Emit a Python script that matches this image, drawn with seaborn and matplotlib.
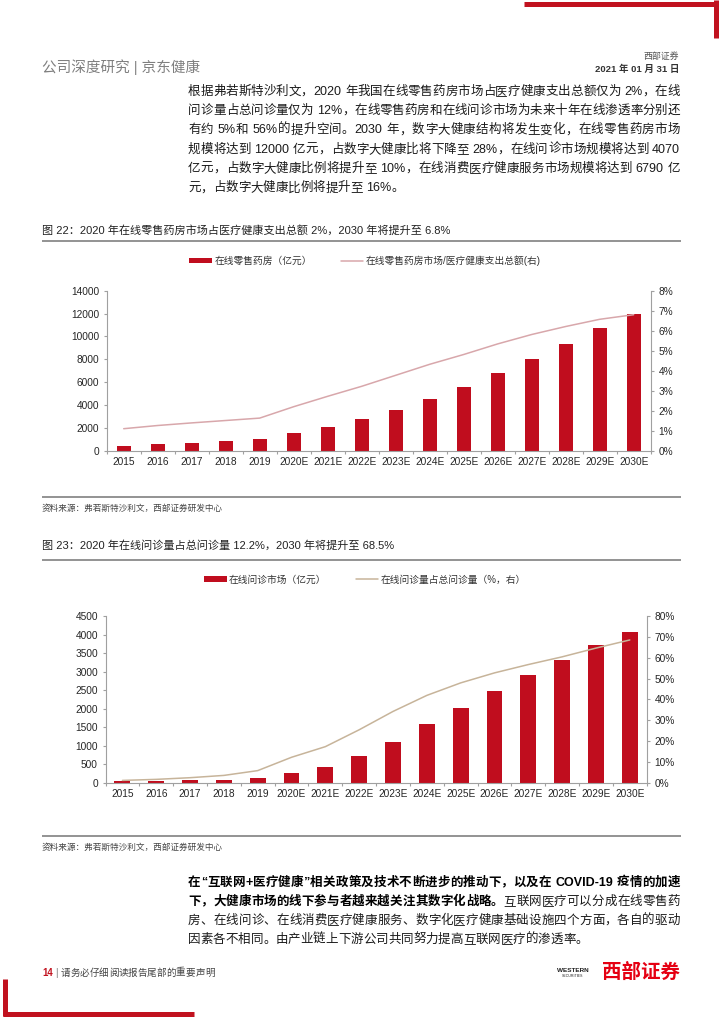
import numpy as np
import pandas as pd
import matplotlib
matplotlib.use("Agg")
import matplotlib.pyplot as plt
import seaborn as sns
from matplotlib.patches import Patch
from matplotlib.lines import Line2D
from matplotlib.ticker import PercentFormatter, MultipleLocator

# ---------------- data ----------------
years = ["2015", "2016", "2017", "2018", "2019", "2020E", "2021E", "2022E",
         "2023E", "2024E", "2025E", "2026E", "2027E", "2028E", "2029E", "2030E"]
pharmacy_sales = [450, 550, 700, 870, 1030, 1560, 2100, 2750,
                  3600, 4550, 5600, 6800, 8000, 9350, 10700, 12000]
pharmacy_share = [1.1, 1.26, 1.39, 1.51, 1.63, 2.2, 2.72, 3.22,
                  3.77, 4.32, 4.81, 5.34, 5.81, 6.21, 6.57, 6.8]
consult_market = [45, 55, 63, 81, 120, 255, 425, 710,
                  1090, 1580, 2010, 2465, 2920, 3320, 3720, 4070]
consult_share = [1.1, 1.6, 2.4, 3.5, 5.8, 12.2, 17.3, 25.4,
                 34.2, 41.9, 47.9, 52.7, 56.7, 60.4, 64.6, 68.5]

legend1 = ["在线零售药房（亿元）", "在线零售药房市场/医疗健康支出总额(右)"]
legend2 = ["在线问诊市场（亿元）", "在线问诊量占总问诊量（%，右）"]
title1 = "图 22：2020 年在线零售药房市场占医疗健康支出总额 2%，2030 年将提升至 6.8%"
title2 = "图 23：2020 年在线问诊量占总问诊量 12.2%，2030 年将提升至 68.5%"
source = "资料来源：弗若斯特沙利文，西部证券研发中心"

para1 = [
    "根据弗若斯特沙利文，2020 年我国在线零售药房市场占医疗健康支出总额仅为 2%，在线",
    "问诊量占总问诊量仅为 12%，在线零售药房和在线问诊市场为未来十年在线渗透率分别还",
    "有约 5%和 56%的提升空间。2030 年，数字大健康结构将发生变化，在线零售药房市场",
    "规模将达到 12000 亿元，占数字大健康比将下降至 28%，在线问诊市场规模将达到 4070",
    "亿元，占数字大健康比例将提升至 10%，在线消费医疗健康服务市场规模将达到 6790 亿",
    "元，占数字大健康比例将提升至 16%。",
]
para2 = [
    [("在“互联网+医疗健康”相关政策及技术不断进步的推动下，以及在 COVID-19 疫情的加速", "bold")],
    [("下，大健康市场的线下参与者越来越关注其数字化战略。", "bold"), ("互联网医疗可以分成在线零售药", "normal")],
    [("房、在线问诊、在线消费医疗健康服务、数字化医疗健康基础设施四个方面，各自的驱动", "normal")],
    [("因素各不相同。由产业链上下游公司共同努力提高互联网医疗的渗透率。", "normal")],
]

# ---------------- style ----------------
sns.set_theme(style="white")
plt.rcParams["font.family"] = ["Liberation Sans", "Noto Sans CJK SC", "DejaVu Sans"]
plt.rcParams["axes.unicode_minus"] = False

W, H = 720, 1018
fig = plt.figure(figsize=(W / 100, H / 100), dpi=100)
fig.patch.set_facecolor("white")
PX = 100 / 72

BAR = "#c00d1e"
SPINE = "#a0a0a0"
TXT = "#1a1a1a"
RED = "#c1121f"


def fx(x):
    return x / W


def fy(y):
    return 1 - y / H


def hline(x0, x1, y, color, lw):
    fig.add_artist(Line2D([fx(x0), fx(x1)], [fy(y), fy(y)], color=color, lw=lw,
                          solid_capstyle="butt", transform=fig.transFigure))


def vline(x, y0, y1, color, lw):
    fig.add_artist(Line2D([fx(x), fx(x)], [fy(y0), fy(y1)], color=color, lw=lw,
                          solid_capstyle="butt", transform=fig.transFigure))


renderer = fig.canvas.get_renderer()
_cache = {}


def ink(s, size, weight):
    key = (s, size, weight)
    if key not in _cache:
        t = fig.text(0, 0, s, fontsize=size, fontweight=weight)
        _cache[key] = t.get_window_extent(renderer).width
        t.remove()
    return _cache[key]


def metrics(tok, size, weight):
    """advance width and left side bearing (relative) of a token, in px."""
    R = "国"
    rr = ink(R + R, size, weight)
    adv = ink(R + tok + R, size, weight) - rr
    if tok == " ":
        return adv, 0.0
    adv_r = rr - ink(R, size, weight)
    lsb = ink(R + tok, size, weight) - ink(tok, size, weight) - adv_r
    return adv, lsb


def place_line(segments, yc, size, x0=188, x1=680, justify=True):
    """segments: list of (text, weight, color). Places tokens on a baseline."""
    tokens = []
    for seg in segments:
        text, weight, color = seg
        buf = ""
        for ch in text:
            if ch.isascii() and ch != " ":
                buf += ch
            else:
                if buf:
                    tokens.append((buf, weight, color))
                    buf = ""
                tokens.append((ch, weight, color))
        if buf:
            tokens.append((buf, weight, color))
    yb = yc + 0.37 * size * PX
    ms = [metrics(tok, size, w) for tok, w, c in tokens]
    # natural line width: advances, minus trailing side bearing approx
    total = sum(m[0] for m in ms)
    gap = (x1 - x0 - total) / max(len(tokens) - 1, 1) if justify else 0.0
    x = x0
    for (tok, weight, color), (adv, lsb) in zip(tokens, ms):
        if tok != " ":
            fig.text(fx(x + lsb), fy(yb), tok, fontsize=size, fontweight=weight,
                     color=color, ha="left", va="baseline")
        x += adv + gap


# ---------------- page decorations ----------------
hline(524, 718, 3.5, RED, 3.6)
vline(715.5, 0, 38, RED, 3.6)
vline(5, 979, 1016, RED, 3.6)
hline(3, 194, 1013.5, RED, 3.6)

fig.text(fx(42), fy(67), "公司深度研究 | 京东健康", fontsize=10.5, color="#7f7f7f",
         ha="left", va="center")
fig.text(fx(679), fy(56), "西部证券", fontsize=6.4, color="#555555", ha="right", va="center")
fig.text(fx(679), fy(69.5), "2021 年 01 月 31 日", fontsize=6.8, color="#333333",
         fontweight="bold", ha="right", va="center")

# paragraph 1
p1_y = [90, 109.3, 128.7, 148, 167.3, 186.7]
for i, (line, yc) in enumerate(zip(para1, p1_y)):
    place_line([(line, "normal", TXT)], yc, 9, justify=(i < len(para1) - 1))

# paragraph 2
p2_y = [881, 900.2, 919.4, 938.6]
for i, (segs, yc) in enumerate(zip(para2, p2_y)):
    segs3 = [(t, w, "#000000" if w == "bold" else TXT) for t, w in segs]
    place_line(segs3, yc, 9, justify=(i < len(para2) - 1))

# captions / rules / sources
fig.text(fx(42), fy(230.7), title1, fontsize=8, color="#222222", ha="left", va="center")
hline(42, 681, 241, "#8a8a8a", 1.3)
hline(42, 681, 496.7, "#8a8a8a", 1.3)
fig.text(fx(42), fy(508), source, fontsize=6.2, color="#444444", ha="left", va="center")
fig.text(fx(42), fy(545), title2, fontsize=8, color="#222222", ha="left", va="center")
hline(42, 681, 560, "#8a8a8a", 1.3)
hline(42, 681, 836, "#8a8a8a", 1.3)
fig.text(fx(42), fy(847), source, fontsize=6.2, color="#444444", ha="left", va="center")

# footer
place_line([("14", "bold", "#c1121f"), (" | ", "normal", "#777777"),
            ("请务必仔细阅读报告尾部的重要声明", "normal", "#444444")],
           972, 6.9, x0=42, x1=222, justify=False)
fig.text(fx(680), fy(972), "西部证券", fontsize=14, color="#e50012", fontweight="heavy",
         ha="right", va="center")
fig.text(fx(573), fy(971), "WESTERN", fontsize=4.6, color="#222222", fontweight="bold",
         ha="center", va="center")
fig.text(fx(573), fy(976), "SECURITIES", fontsize=2.6, color="#222222",
         ha="center", va="center")


# ---------------- charts ----------------
def draw_chart(rect, values, shares, ymax, ystep, rmax, rstep, bar_w, line_color,
               labels, legend_y):
    ax = fig.add_axes(rect)
    df = pd.DataFrame({"year": years, "value": values, "share": shares})
    sns.barplot(data=df, x="year", y="value", color=BAR, saturation=1, width=bar_w,
                linewidth=0, ax=ax)
    ax2 = ax.twinx()
    sns.lineplot(x=np.arange(len(years)), y=df["share"].to_numpy(), color=line_color,
                 lw=1.1, ax=ax2)
    ax.set_xlim(-0.5, len(years) - 0.5)
    ax.set_ylim(0, ymax)
    ax.yaxis.set_major_locator(MultipleLocator(ystep))
    ax2.set_ylim(0, rmax)
    ax2.yaxis.set_major_locator(MultipleLocator(rstep))
    ax2.yaxis.set_major_formatter(PercentFormatter(100, decimals=0))
    for a in (ax, ax2):
        a.set_xlabel("")
        a.set_ylabel("")
        a.set_facecolor("none")
        for s in a.spines.values():
            s.set_color(SPINE)
            s.set_linewidth(0.8)
        a.spines["top"].set_visible(False)
    ax.spines["right"].set_visible(False)
    ax2.spines["left"].set_visible(False)
    ax2.spines["bottom"].set_visible(False)
    ax.tick_params(axis="y", left=True, direction="out", length=2.5, width=0.8,
                   color=SPINE, pad=3, labelsize=7.3, labelcolor="#262626")
    ax2.tick_params(axis="y", right=True, left=False, direction="out", length=2.5,
                    width=0.8, color=SPINE, pad=3, labelsize=7.3, labelcolor="#262626")
    ax.set_xticks(np.arange(-0.5, len(years), 1), minor=True)
    ax.tick_params(axis="x", which="major", bottom=True, length=0, pad=4.6,
                   labelsize=7.3, labelcolor="#262626")
    ax.tick_params(axis="x", which="minor", bottom=True, direction="out", length=2.5,
                   width=0.8, color=SPINE)
    handles = [Patch(facecolor=BAR, edgecolor="none"),
               Line2D([], [], color=line_color, lw=1.1)]
    fig.legend(handles, labels, loc="center", bbox_to_anchor=(fx(365), fy(legend_y)),
               ncol=2, frameon=False, fontsize=7, handlelength=2.3, handleheight=0.55,
               handletextpad=0.25, columnspacing=3.0, borderaxespad=0, borderpad=0,
               labelcolor="#333333")
    return ax, ax2


draw_chart([fx(106.7), fy(450.7), 544 / W, 160 / H], pharmacy_sales, pharmacy_share,
           14000, 2000, 8, 1, 0.41, "#d8a7ab", legend1, 260.7)
draw_chart([fx(105.5), fy(782.7), 541.2 / W, 166.7 / H], consult_market, consult_share,
           4500, 500, 80, 10, 0.47, "#c7b49a", legend2, 579.5)

fig.savefig("out.png", dpi=100, facecolor="white")
